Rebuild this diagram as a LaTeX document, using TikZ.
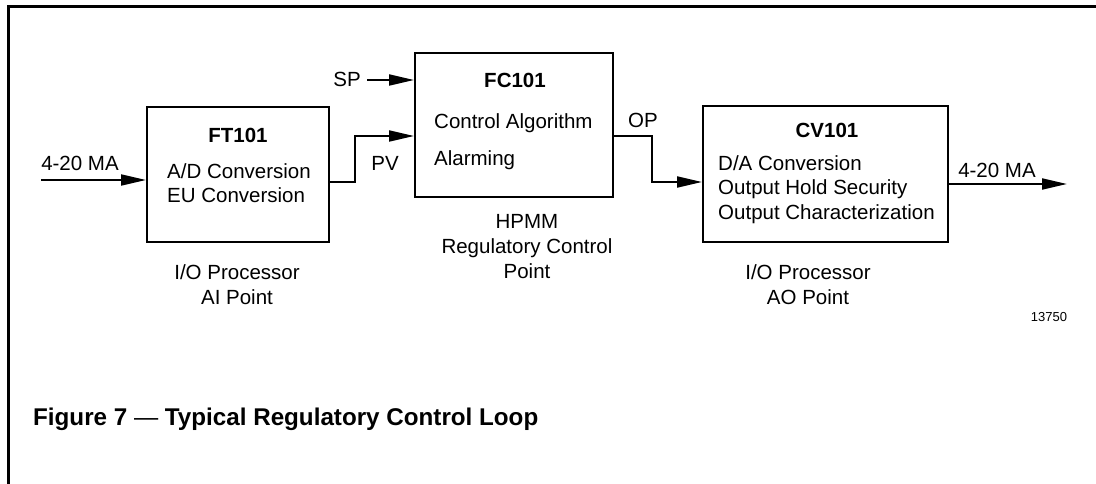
\documentclass[tikz,border=0pt]{standalone}
\usepackage{fontspec}
\setmainfont{Liberation Sans}
\usepackage{tikz}
\usetikzlibrary{positioning, arrows.meta}

\begin{document}
\begin{tikzpicture}[x=1pt,y=-1pt]
	\tikzstyle{block}=[draw=black, line width=2pt, inner sep=0pt]
	\tikzstyle{txt}=[inner sep=0pt, font=\fontsize{20.5}{25}\selectfont]
	\tikzstyle{tag}=[inner sep=0pt, anchor=base, font=\fontsize{20.5}{25}\selectfont\bfseries]
	\tikzstyle{sig}=[line width=2pt, -{Triangle[length=25pt,width=11pt]}]
	\useasboundingbox (0,0) rectangle (1096,484);
	% frame
	\draw[line width=3pt] (8,484) -- (8,7) -- (1096,7);
	% blocks
	\node[block, minimum width=182pt, minimum height=135pt](ft) at (238,174.5) {};
	\node[block, minimum width=198pt, minimum height=144pt](fc) at (514,125) {};
	\node[block, minimum width=245pt, minimum height=136pt](cv) at (825.5,174) {};
	% block texts
	\node[tag](fttag) at (238,142.4) {FT101};
	\node[txt, anchor=base west](ft1) at (167,178.4) {A/D Conversion};
	\node[txt, anchor=base west](ft2) at (167,202.4) {EU Conversion};
	\node[tag](fctag) at (515,87.4) {FC101};
	\node[txt, anchor=base west](fc1) at (434,128.4) {Control Algorithm};
	\node[txt, anchor=base west](fc2) at (434,165.4) {Alarming};
	\node[tag](cvtag) at (827,137.4) {CV101};
	\node[txt, anchor=base west](cv1) at (718,170.4) {D/A Conversion};
	\node[txt, anchor=base west](cv2) at (718,194.4) {Output Hold Security};
	\node[txt, anchor=base west](cv3) at (718,219.4) {Output Characterization};
	% captions under blocks
	\node[txt, align=center](ftcap) at (237,285) {I/O Processor\\AI Point};
	\node[txt, align=center](fccap) at (527,246.5) {HPMM\\Regulatory Control\\Point};
	\node[txt, align=center](cvcap) at (808,285) {I/O Processor\\AO Point};
	% signal labels
	\node[txt, anchor=base](inlab) at (80,170.4) {4-20 MA};
	\node[txt, anchor=base](sp) at (347,86.4) {SP};
	\node[txt, anchor=base](pv) at (385,170.4) {PV};
	\node[txt, anchor=base](op) at (643,127.4) {OP};
	\node[txt, anchor=base](outlab) at (997,177.4) {4-20 MA};
	\coordinate (mainin) at (41,180);
	\coordinate (spin) at (367,80);
	\coordinate (mainout) at (1067,184);
	% connectors
	\draw[sig](mainin) -- (mainin -| ft.west);
	\draw[sig](spin) -- (spin -| fc.west);
	\draw[sig]([yshift=-7.5pt]ft.east) -- ++(25,0) |- ([yshift=-11pt]fc.west);
	\draw[sig]([yshift=-11pt]fc.east) -- ++(38,0) |- ([yshift=-8pt]cv.west);
	\draw[sig](mainout -| cv.east) -- (mainout);
	% figure number and title
	\node[inner sep=0pt, anchor=base, font=\fontsize{13}{15}\selectfont](num) at (1049,321.6) {13750};
	\node[inner sep=0pt, anchor=base west, font=\fontsize{24.2}{28}\selectfont](title) at (33,425.7) {\textbf{Figure 7} — \textbf{Typical Regulatory Control Loop}};
\end{tikzpicture}
\end{document}
